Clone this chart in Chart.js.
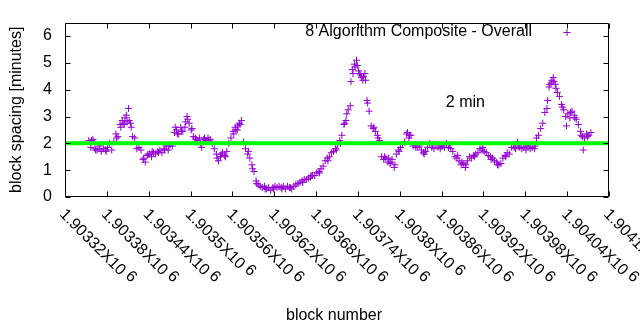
<!DOCTYPE html>
<html>
<head>
<meta charset="utf-8">
<script src="https://cdn.jsdelivr.net/npm/chart.js@4/dist/chart.umd.min.js"></script>
<style>
  html, body { margin: 0; padding: 0; background: #fff; }
  canvas { display: block; }
</style>
</head>
<body>
<canvas id="chart" width="640" height="330"></canvas>
<script>
// block numbers and block spacing in minutes
const blocks = [
  1903354, 1903357, 1903360, 1903363, 1903366, 1903369, 1903372, 1903375, 1903378, 1903381,
  1903384, 1903387, 1903390, 1903393, 1903396, 1903399, 1903402, 1903405, 1903408, 1903411,
  1903414, 1903417, 1903420, 1903423, 1903426, 1903429, 1903432, 1903435, 1903438, 1903441,
  1903444, 1903447, 1903450, 1903453, 1903456, 1903459, 1903462, 1903465, 1903468, 1903471,
  1903474, 1903477, 1903480, 1903483, 1903486, 1903489, 1903492, 1903495, 1903498, 1903501,
  1903504, 1903507, 1903510, 1903513, 1903516, 1903519, 1903522, 1903525, 1903528, 1903531,
  1903534, 1903537, 1903540, 1903543, 1903546, 1903549, 1903552, 1903555, 1903558, 1903561,
  1903564, 1903567, 1903570, 1903573, 1903576, 1903579, 1903582, 1903585, 1903588, 1903591,
  1903594, 1903597, 1903600, 1903603, 1903606, 1903609, 1903612, 1903615, 1903618, 1903621,
  1903624, 1903627, 1903630, 1903633, 1903636, 1903639, 1903642, 1903645, 1903648, 1903651,
  1903654, 1903657, 1903660, 1903663, 1903666, 1903669, 1903672, 1903675, 1903678, 1903681,
  1903684, 1903687, 1903690, 1903693, 1903696, 1903699, 1903702, 1903705, 1903708, 1903711,
  1903714, 1903717, 1903720, 1903723, 1903726, 1903729, 1903732, 1903735, 1903738, 1903741,
  1903744, 1903747, 1903750, 1903753, 1903756, 1903759, 1903762, 1903765, 1903768, 1903771,
  1903774, 1903777, 1903780, 1903783, 1903786, 1903789, 1903792, 1903795, 1903798, 1903801,
  1903804, 1903807, 1903810, 1903813, 1903816, 1903819, 1903822, 1903825, 1903828, 1903831,
  1903834, 1903837, 1903840, 1903843, 1903846, 1903849, 1903852, 1903855, 1903858, 1903861,
  1903864, 1903867, 1903870, 1903873, 1903876, 1903879, 1903882, 1903885, 1903888, 1903891,
  1903894, 1903897, 1903900, 1903903, 1903906, 1903909, 1903912, 1903915, 1903918, 1903921,
  1903924, 1903927, 1903930, 1903933, 1903936, 1903939, 1903942, 1903945, 1903948, 1903951,
  1903954, 1903957, 1903960, 1903963, 1903966, 1903969, 1903972, 1903975, 1903978, 1903981,
  1903984, 1903987, 1903990, 1903993, 1903996, 1903999, 1904002, 1904005, 1904008, 1904011,
  1904014, 1904017, 1904020, 1904023, 1904026, 1904029, 1904032, 1904035, 1904038, 1904041,
  1904044, 1904047, 1904050, 1904053, 1904056, 1904059, 1904062, 1904065, 1904068, 1904071, 1904074
];
const spacing = [
  2.1, 1.85, 2.15, 1.8, 1.75, 1.9, 1.7, 1.8, 1.75, 1.85,
  2.0, 1.75, 2.05, 2.35, 2.25, 2.7, 2.85, 2.7, 3.05, 3.3,
  2.75, 2.25, 2.2, 1.8, 1.85, 1.75, 1.4, 1.3, 1.55, 1.6,
  1.5, 1.65, 1.6, 1.7, 1.75, 1.65, 1.8, 1.9, 1.75, 1.95,
  1.9, 2.4, 2.5, 2.35, 2.6, 2.45, 2.6, 3.0, 2.75, 2.5,
  2.25, 2.2, 2.1, 2.2, 1.85, 2.15, 2.1, 2.2, 2.15, 2.0,
  1.8, 1.6, 1.35, 1.5, 1.65, 1.55, 1.7, 2.0, 2.2, 2.45,
  2.6, 2.5, 2.75, 2.85, 2.05, 1.8, 1.6, 1.45, 1.2, 0.95,
  0.6, 0.45, 0.4, 0.35, 0.4, 0.3, 0.35, 0.25, 0.35, 0.4,
  0.35, 0.4, 0.35, 0.4, 0.3, 0.4, 0.35, 0.3, 0.4, 0.45,
  0.5, 0.55, 0.6, 0.65, 0.65, 0.7, 0.75, 0.8, 0.8, 0.9,
  0.95, 1.05, 1.15, 1.35, 1.45, 1.5, 1.65, 1.7, 1.8, 1.95,
  2.1, 2.3, 2.7, 2.85, 3.25, 3.4, 4.75, 4.95, 5.1, 4.7,
  4.55, 4.35, 4.6, 3.6, 3.2, 2.65, 2.55, 2.45, 2.3, 2.1,
  1.5, 1.4, 1.45, 1.3, 1.25, 1.4, 1.1, 1.6, 1.75, 1.85,
  1.95, 2.05, 2.35, 2.2, 2.3, 1.9, 1.95, 1.85, 1.9, 1.75,
  1.65, 1.7, 1.85, 2.0, 1.85, 1.8, 1.95, 1.85, 1.8, 1.9,
  1.85, 2.0, 1.85, 1.8, 1.7, 1.5, 1.45, 1.35, 1.2, 1.25,
  1.1, 1.35, 1.5, 1.45, 1.55, 1.6, 1.65, 1.8, 1.75, 1.7,
  1.65, 1.55, 1.5, 1.45, 1.35, 1.3, 1.2, 1.25, 1.45, 1.55,
  1.65, 1.6, 1.85, 1.95, 1.8, 2.05, 1.85, 1.8, 1.85, 1.75,
  1.9, 1.8, 1.85, 1.8, 2.2, 2.3, 2.55, 2.75, 3.15, 3.3,
  4.1, 4.25, 4.45, 4.2, 3.9, 3.75, 3.45, 3.25, 3.0, 3.1,
  2.95, 3.2, 3.05, 2.9, 2.7, 2.45, 2.25, 2.2, 2.35, 2.3, 2.4
];

// extra points where the cloud is spread out
const extraBlocks = [
  1903358, 1903364, 1903370, 1903379, 1903394, 1903400, 1903403, 1903406, 1903409, 1903412,
  1903415, 1903433, 1903439, 1903445, 1903454, 1903463, 1903469, 1903478, 1903481, 1903487,
  1903493, 1903496, 1903502, 1903508, 1903514, 1903520, 1903526, 1903538, 1903544, 1903550,
  1903562, 1903565, 1903568, 1903571, 1903583, 1903589, 1903595, 1903607, 1903619, 1903631,
  1903643, 1903661, 1903673, 1903685, 1903697, 1903709, 1903715, 1903721, 1903724, 1903730,
  1903733, 1903736, 1903739, 1903742, 1903745, 1903748, 1903751, 1903754, 1903763, 1903769,
  1903778, 1903784, 1903787, 1903793, 1903799, 1903811, 1903814, 1903823, 1903835, 1903847,
  1903859, 1903871, 1903883, 1903889, 1903895, 1903907, 1903919, 1903931, 1903940, 1903952,
  1903964, 1903970, 1903982, 1903994, 1904012, 1904015, 1904018, 1904021, 1904024, 1904033,
  1904039, 1904045, 1904051, 1904060, 1904063, 1904069
];
const extraSpacing = [
  2.1, 1.75, 1.8, 1.7, 2.2, 2.6, 2.75, 2.95, 2.8, 2.85,
  2.6, 1.45, 1.6, 1.7, 1.65, 1.75, 1.9, 2.6, 2.35, 2.45,
  2.8, 2.9, 2.55, 2.15, 2.0, 2.2, 2.1, 1.45, 1.6, 1.5,
  2.35, 2.5, 2.65, 2.7, 1.7, 1.05, 0.5, 0.3, 0.3, 0.3,
  0.35, 0.55, 0.8, 0.9, 1.35, 1.75, 2.0, 2.75, 3.1, 4.3,
  4.6, 4.85, 4.9, 4.6, 4.45, 4.5, 4.35, 3.5, 2.6, 2.2,
  1.5, 1.45, 1.3, 1.2, 1.7, 2.4, 2.3, 1.85, 1.6, 1.95,
  1.9, 1.95, 1.55, 1.3, 1.2, 1.5, 1.85, 1.4, 1.2, 1.5,
  1.85, 1.9, 1.9, 1.9, 3.6, 4.2, 4.35, 4.3, 4.05, 3.35,
  2.65, 3.15, 2.95, 2.3, 1.75, 2.25
];

const targetSpacing = 2;
const xMin = 1903320;
const xMax = 1904100;
const xTicks = [1903320, 1903380, 1903440, 1903500, 1903560, 1903620, 1903680,
  1903740, 1903800, 1903860, 1903920, 1903980, 1904040, 1904100];
const xTickLabels = ['1.90332', '1.90338', '1.90344', '1.9035', '1.90356', '1.90362', '1.90368',
  '1.90374', '1.9038', '1.90386', '1.90392', '1.90398', '1.90404', '1.9041'];
const yTicks = [0, 1, 2, 3, 4, 5, 6];

const seriesLabel = '8 Algorithm Composite - Overall';
const purple = '#9400d3';
const fontFamily = '"Liberation Sans", Arial, sans-serif';
const font = '16px ' + fontFamily;

const points = blocks.map((b, i) => ({ x: b, y: spacing[i] }))
  .concat(extraBlocks.map((b, i) => ({ x: b, y: extraSpacing[i] })));

// frame, inward ticks, rotated x labels, legend and captions
const gnuplotFrame = {
  id: 'gnuplotFrame',
  afterDraw(chart) {
    const { ctx, chartArea: a, scales } = chart;
    const l = Math.round(a.left) + 0.5, r = Math.round(a.right) - 0.5;
    const t = Math.round(a.top) + 0.5, b = Math.round(a.bottom) - 0.5;
    ctx.save();
    ctx.strokeStyle = '#000';
    ctx.lineWidth = 1;
    ctx.beginPath();
    ctx.rect(l, t, r - l, b - t);
    yTicks.forEach(v => {
      const y = Math.round(scales.y.getPixelForValue(v)) + 0.5;
      ctx.moveTo(l, y); ctx.lineTo(l + 5, y);
      ctx.moveTo(r, y); ctx.lineTo(r - 5, y);
    });
    xTicks.forEach(v => {
      const x = Math.round(scales.x.getPixelForValue(v)) + 0.5;
      ctx.moveTo(x, b); ctx.lineTo(x, b - 5);
      ctx.moveTo(x, t); ctx.lineTo(x, t + 5);
    });
    ctx.stroke();

    ctx.fillStyle = '#000';
    ctx.font = font;
    ctx.textAlign = 'left';
    ctx.textBaseline = 'middle';
    xTicks.forEach((v, i) => {
      const x = scales.x.getPixelForValue(v);
      ctx.save();
      ctx.translate(x - 3, 212);
      ctx.rotate(Math.PI / 4);
      const txt = xTickLabels[i] + 'X10';
      ctx.fillText(txt, 0, 0);
      const w = ctx.measureText(txt).width;
      ctx.fillText('6', w + 4, -3);
      ctx.restore();
    });

    // legend: text then marker
    ctx.textAlign = 'right';
    ctx.fillText(seriesLabel, 532, 32);
    ctx.strokeStyle = purple;
    ctx.beginPath();
    ctx.moveTo(563.5, 32.5); ctx.lineTo(570.5, 32.5);
    ctx.moveTo(567, 29); ctx.lineTo(567, 36);
    ctx.stroke();

    // "2 min" label
    ctx.textAlign = 'left';
    ctx.fillText('2 min', scales.x.getPixelForValue(1903866), scales.y.getPixelForValue(3.5));

    // axis titles
    ctx.textAlign = 'center';
    ctx.fillText('block number', (a.left + a.right) / 2 - 3, 316);
    ctx.save();
    ctx.translate(17, (a.top + a.bottom) / 2);
    ctx.rotate(-Math.PI / 2);
    ctx.fillText('block spacing [minutes]', 0, 0);
    ctx.restore();
    ctx.restore();
  }
};

new Chart(document.getElementById('chart'), {
  type: 'scatter',
  data: {
    datasets: [
      {
        type: 'line',
        label: '2 min',
        data: [{ x: xMin, y: targetSpacing }, { x: xMax, y: targetSpacing }],
        borderColor: '#00ff00',
        borderWidth: 4,
        pointRadius: 0,
        order: 0
      },
      {
        label: seriesLabel,
        data: points,
        pointStyle: 'cross',
        pointRadius: 3.5,
        borderColor: purple,
        backgroundColor: purple,
        borderWidth: 1,
        order: 1
      }
    ]
  },
  options: {
    responsive: false,
    animation: false,
    devicePixelRatio: 1,
    events: [],
    layout: { padding: { top: 20, right: 31, left: 0, bottom: 0 } },
    plugins: { legend: { display: false }, tooltip: { enabled: false } },
    scales: {
      x: {
        type: 'linear',
        min: xMin,
        max: xMax,
        grid: { display: false, drawTicks: false },
        border: { display: false },
        ticks: { display: false },
        afterFit(scale) { scale.height = 133; }
      },
      y: {
        min: 0,
        max: 6.5,
        grid: { display: false, drawTicks: false },
        border: { display: false },
        afterBuildTicks(scale) { scale.ticks = yTicks.map(v => ({ value: v })); },
        ticks: {
          padding: 13,
          color: '#000',
          font: { family: fontFamily, size: 16 }
        },
        afterFit(scale) { scale.width = 65; }
      }
    }
  },
  plugins: [gnuplotFrame]
});
</script>
</body>
</html>
